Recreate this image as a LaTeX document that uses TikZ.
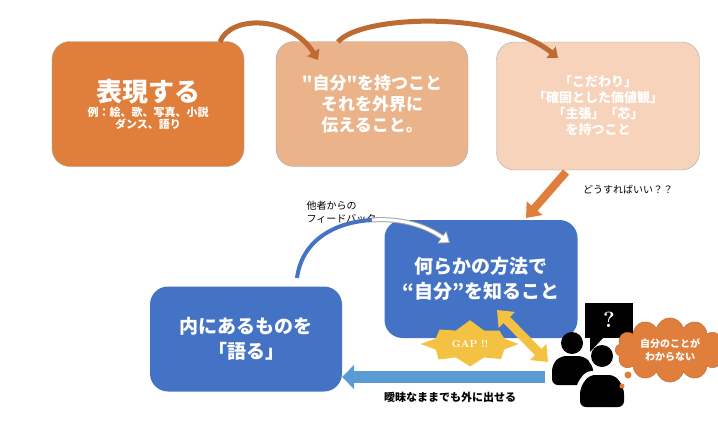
\documentclass[tikz,border=0pt]{standalone}
\usepackage{fontspec}
\newfontfamily\cjk{Noto Sans CJK JP}
\usetikzlibrary{arrows.meta,shapes.symbols}
\definecolor{ordark}{HTML}{E07E3C}
\definecolor{ormid}{HTML}{EBB38A}
\definecolor{orlight}{HTML}{F6D3BA}
\definecolor{bluebox}{HTML}{4472C4}
\definecolor{bluearr}{HTML}{5B9BD5}
\definecolor{gapyel}{HTML}{F4C242}
\tikzset{box/.style={draw=gray!70, rounded corners=18pt, minimum width=192pt, minimum height=125pt, text=white, align=center, font=\cjk\bfseries}}

\begin{document}
\begin{tikzpicture}[x=1pt,y=-1pt]
        \useasboundingbox (0,0) rectangle (718,426);
        \clip (0,0) rectangle (718,426);

          % top row
        \node (express) at (148,104) [box, fill=ordark] {\fontsize{26}{30}\selectfont 表現する\\[2pt]\fontsize{11}{13}\selectfont 例：絵、歌、写真、小説\\\fontsize{11}{13}\selectfont ダンス、語り};
        \node (hold) at (372,104) [box, fill=ormid, font=\cjk\bfseries\fontsize{17}{21}\selectfont] {"自分"を持つこと\\それを外界に\\伝えること。};
        \node (core) at (598,106) [box, fill=orlight, minimum width=203pt, minimum height=128pt, font=\cjk\bfseries\fontsize{13}{16}\selectfont] {「こだわり」\\「確固とした価値観」\\「主張」「芯」\\を持つこと};

          % bottom row
        \node (know) at (481,279) [box, draw=none, fill=bluebox, minimum width=193pt, minimum height=118pt, font=\cjk\bfseries\fontsize{19}{25}\selectfont] {何らかの方法で\\“自分”を知ること};
        \node (speak) at (246,339) [box, draw=none, fill=bluebox, minimum height=105pt, font=\cjk\bfseries\fontsize{19}{25}\selectfont] {内にあるものを\\「語る」};

        \coordinate (c1) at (220,42);
        \coordinate (c2) at (318,60);
        \coordinate (c3) at (338,42);
        \coordinate (c4) at (558,58);
        \draw[ordark!85!black, line width=5pt, -{Triangle[width=14pt,length=9pt]}] (c1) .. controls (230,15) and (290,15) .. (c2);
        \draw[ordark!85!black, line width=5pt, -{Triangle[width=14pt,length=9pt]}] (c3) .. controls (360,15) and (500,10) .. (c4);

        \coordinate (h1) at (566,172);
        \coordinate (h2) at (526,218);
        \draw[ordark, line width=8pt, -{Triangle[width=20pt,length=13pt]}] (h1) -- (h2);
        \node (how) at (628,190) [font=\cjk\fontsize{10}{12}\selectfont] {どうすればいい？？};

          % feedback
        \node (fb) at (303,212) [anchor=west, align=left, font=\cjk\fontsize{10}{13}\selectfont] {他者からの\\フィードバック};
        \draw[bluebox, line width=4pt] (297,278) .. controls (302,240) and (335,222) .. (372,220);
        \draw[gray!70, line width=5pt, -{Triangle[width=15pt,length=10pt]}] (372,220) .. controls (400,218) and (425,225) .. (450,243);
        \draw[white, line width=3pt, -{Triangle[width=12pt,length=8pt]}, shorten >=1.5pt] (372,220) .. controls (400,218) and (425,225) .. (450,243);

          % vague output
        \coordinate (v1) at (545,377);
        \draw[bluearr, line width=12pt, -{Triangle[width=24pt,length=12pt]}] (v1) -- (speak.east |- v1);
        \node (vague) at (450,397) [font=\cjk\bfseries\fontsize{11}{13}\selectfont] {曖昧なままでも外に出せる};

          % gap
        \draw[gapyel, line width=9pt, {Triangle[width=22pt,length=14pt]}-{Triangle[width=22pt,length=14pt]}] (497,310) -- (548,362);
        \node (gap) at (470,344) [starburst, starburst points=8, starburst point height=13pt, fill=gapyel, minimum width=100pt, minimum height=55pt, text=white, font=\bfseries\fontsize{10}{12}\selectfont] {GAP !!};

          % person
        \fill (572,343) circle (11);
        \fill[rounded corners=6pt] (552,385) -- (552,365) -- (560,356) -- (584,356) -- (593,365) -- (593,385) -- cycle;
        \fill[white] (602,356) circle (14);
        \fill (602,356) circle (11);
        \fill[white, rounded corners=6pt] (576,410) -- (576,385) -- (586,371) -- (618,371) -- (628,385) -- (628,410) -- cycle;
        \fill[rounded corners=6pt] (580,407) -- (580,388) -- (589,375) -- (615,375) -- (624,388) -- (624,407) -- cycle;
        \fill (585,303) rectangle (633,338);
        \fill (590,337) -- (604,337) -- (590,352) -- cycle;
        \node (q) at (609,320) [text=white, font=\bfseries\fontsize{22}{24}\selectfont] {?};
        \node (lost) at (670,350) [cloud, cloud puffs=12, aspect=2, fill=ordark, draw=ordark!80!black, minimum width=110pt, minimum height=62pt, text=white, align=center, font=\cjk\bfseries\fontsize{10}{13}\selectfont] {自分のことが\\わからない};
        \fill[ordark] (628,375) circle (3.5);
        \fill[ordark] (622,386) circle (2.5);

        \end{tikzpicture}
\end{document}
